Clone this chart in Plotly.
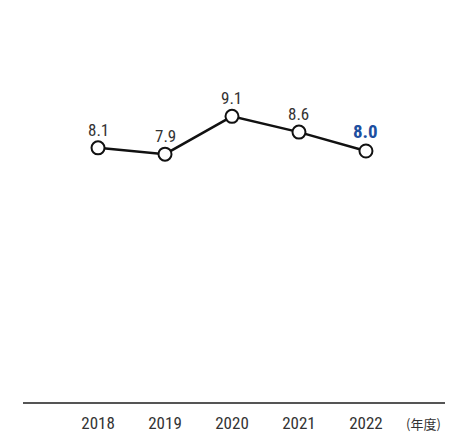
import plotly.graph_objects as go

years = ["2018", "2019", "2020", "2021", "2022"]
values = [8.1, 7.9, 9.1, 8.6, 8.0]
labels = ["8.1", "7.9", "9.1", "8.6", "8.0"]
unit_label = "(年度)"

xs = list(range(len(years)))
FONT = "Liberation Sans Narrow, Roboto Condensed, Roboto, sans-serif"

# page body has an 8px default margin; figure is sized to fit inside the window
W, H = 456, 427
L, R, T, B = 15, 19, 17, 32

fig = go.Figure()
fig.add_trace(go.Scatter(
    x=xs, y=values, mode="lines+markers",
    line=dict(color="#111111", width=2.5),
    marker=dict(size=13, color="white", line=dict(color="#111111", width=2)),
    hoverinfo="skip", showlegend=False,
))

for i, (v, t) in enumerate(zip(values, labels)):
    last = i == len(values) - 1
    fig.add_annotation(
        x=xs[i], y=v, text=f"<b>{t}</b>" if last else t, showarrow=False,
        yshift=20 if last else 18,
        font=dict(family=FONT, size=19 if last else 17,
                  color="#1d4f9f" if last else "#333333"),
    )

fig.add_annotation(
    x=(415 - L) / (W - L - R), xref="paper", xanchor="center",
    y=0, yref="paper", yanchor="middle", yshift=-20,
    text=unit_label, showarrow=False,
    font=dict(family="Noto Sans CJK JP, sans-serif", size=13, color="#333333"),
)

fig.update_xaxes(
    range=[-1.12, 5.18], tickvals=xs, ticktext=years,
    showgrid=False, zeroline=False, showline=False, automargin=False,
    ticks="outside", ticklen=5, tickcolor="rgba(0,0,0,0)",
    tickfont=dict(family=FONT, size=17, color="#333333"),
)
fig.update_yaxes(
    range=[0, 12], showgrid=False, zeroline=True, zerolinecolor="#555555",
    zerolinewidth=1.5, showticklabels=False, showline=False, automargin=False,
)

fig.update_layout(
    width=W, height=H,
    margin=dict(l=L, r=R, t=T, b=B, autoexpand=False),
    plot_bgcolor="white", paper_bgcolor="white",
)

fig.write_html("out.html")
